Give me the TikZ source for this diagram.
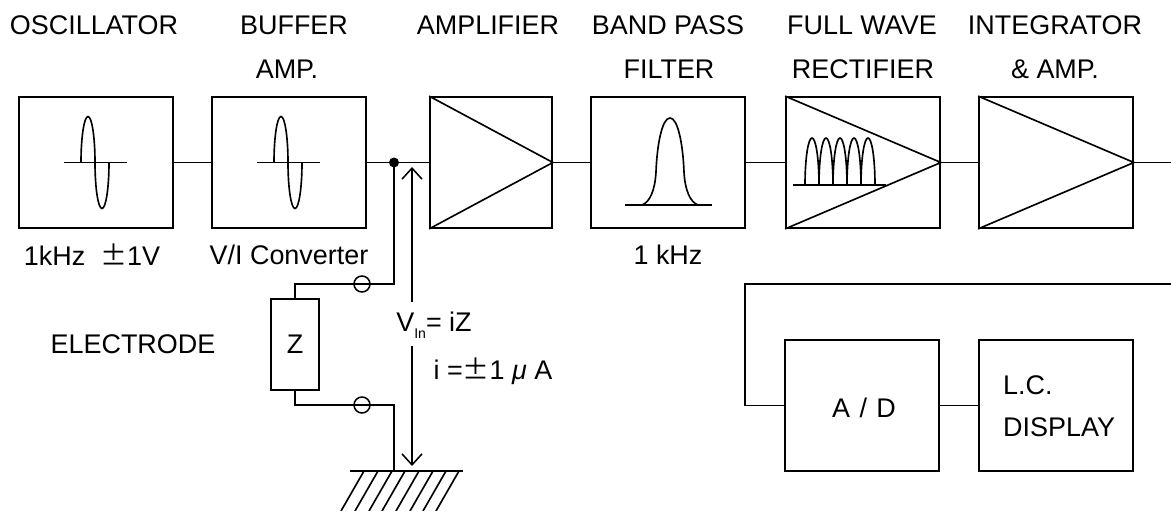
\documentclass[tikz,border=0pt]{standalone}
\usepackage{fontspec}
\setmainfont{Liberation Sans}
\newfontfamily\cjk{Noto Sans CJK JP}
\usetikzlibrary{arrows.meta,positioning}

\begin{document}
\begin{tikzpicture}[
    x=0.03cm, y=-0.03cm,
    every node/.style={font=\fontsize{23}{27}\selectfont},
    block/.style={draw, line width=1.5pt, rectangle, inner sep=0pt, minimum width=4.62cm, minimum height=3.93cm},
    ampblock/.style={block, minimum width=3.66cm},
    wire/.style={line width=1.4pt},
    glyph/.style={line width=1.4pt},
    meter/.style={line width=1.3pt, -{Straight Barb[length=0.33cm,width=0.6cm]}},
    terminal/.style={draw, line width=1.3pt, circle, inner sep=0pt, minimum size=0.48cm}
]
\useasboundingbox (0,0) rectangle (1171,511);

% --- Upper row ---
\node[block] (osc) at (96,162.5) {};
\node[block] (buffer) at (289,162.5) {};
\node[ampblock] (amp) at (491,162.5) {};
\node[block] (bandpass) at (668,162.5) {};
\node[block] (rectifier) at (863,162.5) {};
\node[block] (integrator) at (1056,162.5) {};

% --- Lower row ---
\node[block] (adc) at (862,405.5) {};
\node[block] (lcd) at (1056,405.5) {};
\node[block, minimum width=1.44cm, minimum height=2.73cm] (z) at (295,344.5) {Z};

% --- Triangles in the blocks ---
\foreach \blk in {amp,rectifier,integrator}
  \draw[wire] (\blk.north west) -- (\blk.east) -- (\blk.south west);

% --- Sine waves ---
\foreach \blk in {osc,buffer} {
  \draw[glyph] ([xshift=-0.96cm]\blk.center) -- ([xshift=0.93cm]\blk.center);
  \draw[glyph] ([xshift=-0.45cm]\blk.center) arc[start angle=180, end angle=360, x radius=7, y radius=46];
  \draw[glyph] ([xshift=-0.03cm]\blk.center) arc[start angle=180, end angle=0, x radius=7, y radius=46];
}

% --- Band pass curve ---
\draw[glyph] (625,205) -- (712,205);
\draw[glyph] (642,205) .. controls (650,202) and (655,190) .. (656,172)
  .. controls (657,145) and (662,118) .. (670,118)
  .. controls (678,118) and (683,145) .. (684,172)
  .. controls (685,190) and (690,202) .. (698,205);

% --- Rectified pulses ---
\draw[glyph] (793,185) -- (886,185);
\foreach \xa in {805,819,833,847,861}
  \draw[glyph] (\xa,185) arc[start angle=180, end angle=360, x radius=7, y radius=47];

% --- Labels ---
\node at (94,25) {OSCILLATOR};
\node at (294,25) {BUFFER};
\node at (287,69) {AMP.};
\node at (488,25) {AMPLIFIER};
\node at (668,25) {BAND PASS};
\node at (669,69) {FILTER};
\node at (862,25) {FULL WAVE};
\node at (863,69) {RECTIFIER};
\node at (1055,25) {INTEGRATOR};
\node at (1055,69) {\& AMP.};
\node at (92,255) {1kHz\ \ {\cjk ±}1V};
\node at (289,255) {V/I Converter};
\node at (668,255) {1 kHz};
\node at (133,344) {ELECTRODE};
\node at (864,408) {A\hspace{0.35em}/\hspace{0.35em}D};
\node[anchor=west] at (999,385) {L.C.};
\node[anchor=west] at (999,427) {DISPLAY};
\node (vin) at (434,325) {V\raisebox{-0.25em}{\fontsize{12}{14}\selectfont In}= iZ};
\node at (493,371) {i ={\cjk ±}1 \textit{μ} A};

% --- Connectors ---
\coordinate (junction) at (394,162.5);
\coordinate (inlet) at (394,284);
\coordinate (gnd) at (394,471);
\coordinate (outlet) at (1171,162.5);
\coordinate (feedback) at (1171,284);
\coordinate (fbcorner) at (745,405.5);
\coordinate (uptip) at (412,167);
\coordinate (uptail) at (412,302);
\coordinate (downtail) at (412,346);
\coordinate (downtip) at (412,466);

\node[terminal] (top) at (362,284) {};
\node[terminal] (bottom) at (362,405) {};

\draw[wire] (osc) -- (buffer);
\draw[wire] (buffer) -- (amp);
\draw[wire] (amp) -- (bandpass);
\draw[wire] (bandpass) -- (rectifier);
\draw[wire] (rectifier) -- (integrator);
\draw[wire] (integrator) -- (outlet);
\draw[wire] (adc) -- (lcd);
\draw[wire] (feedback) -| (fbcorner) -- (adc.west);
\draw[wire] (junction) -- (inlet) -- (top.center) -| (z.north);
\draw[wire] (z.south) |- (bottom.center) -| (gnd);
\fill (junction) circle[radius=5];
\draw[meter] (uptail) -- (uptip);
\draw[meter] (downtail) -- (downtip);

% --- Ground ---
\draw[wire] (350,471) -- (463,471);
\foreach \xa in {364,378,392,405,419,433,446,459}
  \draw[wire] (\xa,471) -- ++(-23,40);

\end{tikzpicture}
\end{document}
